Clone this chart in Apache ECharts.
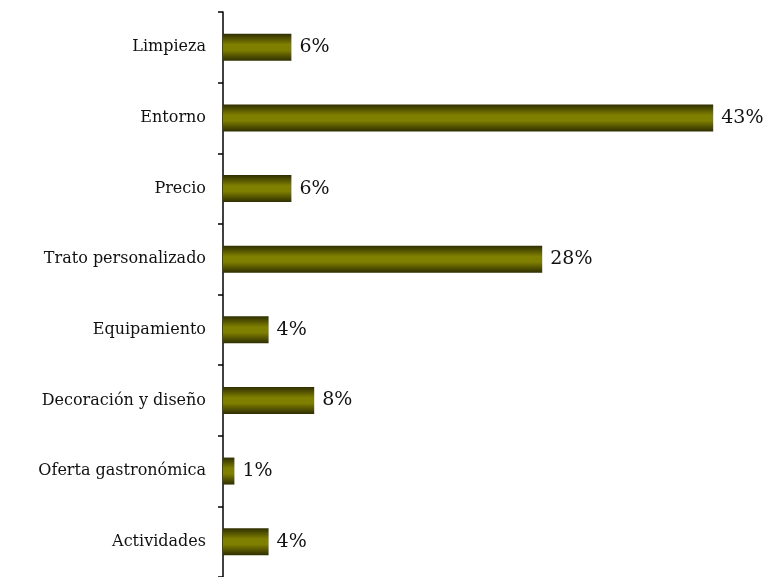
<!DOCTYPE html>
<html>
<head>
<meta charset="utf-8">
<script src="https://cdn.jsdelivr.net/npm/echarts@6/dist/echarts.min.js"></script>
<style>
  html, body { margin: 0; padding: 0; background: #fff; }
  #chart { width: 769px; height: 577px; }
</style>
</head>
<body>
<div id="chart"></div>
<script>
// categorias (de arriba a abajo)
var categories = ['Limpieza', 'Entorno', 'Precio', 'Trato personalizado', 'Equipamiento', 'Decoración y diseño', 'Oferta gastronómica', 'Actividades'];
// porcentajes
var values = [6, 43, 6, 28, 4, 8, 1, 4];

var chart = echarts.init(document.getElementById('chart'));
var option = {
  animation: false,
  grid: { left: 223, right: 33, top: 12, bottom: 0 },
  xAxis: {
    type: 'value',
    min: 0,
    max: 45,
    show: false
  },
  yAxis: {
    type: 'category',
    inverse: true,
    data: categories,
    axisLine: { lineStyle: { color: '#000', width: 1.5 } },
    axisTick: { show: true, length: 5, lineStyle: { color: '#000', width: 1.5 } },
    axisLabel: {
      color: '#111',
      fontFamily: 'DejaVu Serif',
      fontSize: 16,
      margin: 17
    }
  },
  series: [{
    type: 'bar',
    data: values,
    barWidth: 27,
    itemStyle: {
      color: new echarts.graphic.LinearGradient(0, 0, 0, 1, [
        { offset: 0, color: '#2e2e00' },
        { offset: 0.4, color: '#808000' },
        { offset: 0.6, color: '#808000' },
        { offset: 1, color: '#2e2e00' }
      ])
    },
    label: {
      show: true,
      position: 'right',
      distance: 8,
      color: '#111',
      fontFamily: 'DejaVu Serif',
      fontSize: 19,
      formatter: '{c}%'
    }
  }]
};
chart.setOption(option);
</script>
</body>
</html>
